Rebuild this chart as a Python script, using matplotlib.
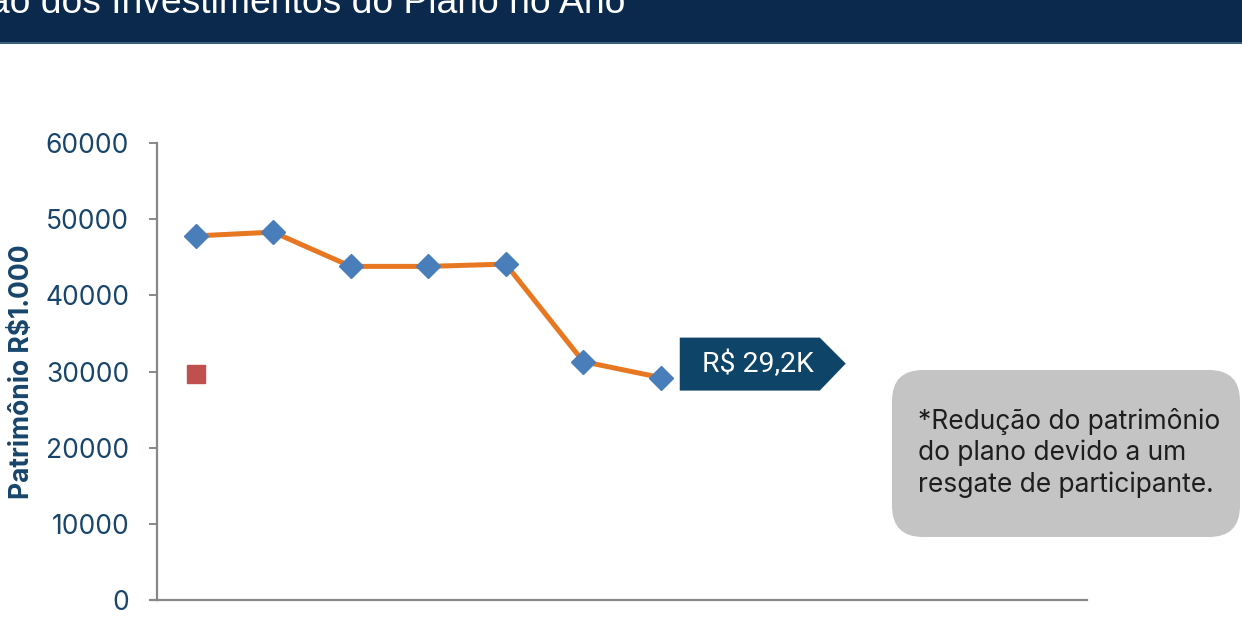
import numpy as np
import matplotlib.pyplot as plt
import matplotlib.transforms as mtransforms
from matplotlib.patches import Polygon, FancyBboxPatch, Rectangle

# data
meses = ['Jan', 'Fev', 'Mar', 'Abr', 'Mai', 'Jun', 'Jul', 'Ago', 'Set', 'Out', 'Nov', 'Dez']
patrimonio = [47800, 48300, 43800, 43800, 44100, 31300, 29200]
referencia = [29700]
titulo = 'Evolução dos Investimentos do Plano no Ano'
rotulo_final = 'R$ 29,2K'
nota = '*Redução do patrimônio\ndo plano devido a um\nresgate de participante.'

W, H = 1242, 617
fig = plt.figure(figsize=(W / 100, H / 100), dpi=100)
fig.patch.set_facecolor('white')

# header bar
fig.add_artist(Rectangle((0, 1 - 42 / H), 1, 42 / H, transform=fig.transFigure,
                         facecolor='#0B294C', edgecolor='none'))
fig.add_artist(Rectangle((0, 1 - 44 / H), 1, 2 / H, transform=fig.transFigure,
                         facecolor='#3A5E7E', edgecolor='none'))
fig.text(625 / W, 1 - 13 / H, titulo, color='white', fontsize=26.8,
         family='Liberation Sans', ha='right', va='baseline')

ax = fig.add_axes([157 / W, 17 / H, 930 / W, 457 / H])
x = np.arange(len(patrimonio))
ax.plot(x, patrimonio, color='#E87722', lw=3.6, marker='D', markersize=12,
        markerfacecolor='#4A7EBB', markeredgecolor='#4A7EBB', zorder=3)
ax.plot(np.arange(len(referencia)), referencia, ls='none', marker='s', markersize=13,
        color='#C0504D', zorder=3)

ax.set_xlim(-0.5, len(meses) - 0.5)
ax.set_ylim(0, 60000)
ax.set_yticks(np.arange(0, 60001, 10000))
ax.set_xticks([])
for s in ['top', 'right']:
    ax.spines[s].set_visible(False)
for s in ['left', 'bottom']:
    ax.spines[s].set_color('#888888')
    ax.spines[s].set_linewidth(1.6)
ax.tick_params(axis='y', length=6, width=1.4, color='#888888', pad=14,
               labelsize=19, labelcolor='#17456B')
for lab in ax.get_yticklabels():
    lab.set_family('Inter')
ax.set_ylabel('Patrimônio R$1.000', fontsize=19, fontweight='bold',
              color='#17456B', family='Inter')
ax.yaxis.set_label_coords(-122 / 930, 0.5)
# small extension of baseline to the left
ax.plot([-6 / 930 * 12 - 0.5, -0.5], [0, 0], color='#888888', lw=1.6,
        clip_on=False, transform=ax.transData)

# tag pointing from last value
fig.canvas.draw()
px, py = ax.transData.transform((x[-1], patrimonio[-1]))
tr = mtransforms.Affine2D().translate(px, py)
tag = Polygon([(19, 40), (159, 40), (185, 14), (159, -13), (19, -13)],
              closed=True, facecolor='#0E4468', edgecolor='none',
              transform=tr, clip_on=False)
fig.add_artist(tag)
fig.text((px + 97) / W, (py + 13) / H, rotulo_final, color='white', fontsize=20.5,
         family='Roboto', ha='center', va='center')

# note box
fig.add_artist(FancyBboxPatch((892 / W, 1 - 537 / H), 348 / W, 167 / H,
                              boxstyle='round,pad=0,rounding_size=0.025',
                              transform=fig.transFigure, mutation_aspect=W / H,
                              facecolor='#C4C4C4', edgecolor='none'))
fig.text(918 / W, 1 - 453 / H, nota, color='#1E1E1E', fontsize=19,
         family='Inter', ha='left', va='center', linespacing=1.26)

fig.savefig('out.png', dpi=100, facecolor='white')
